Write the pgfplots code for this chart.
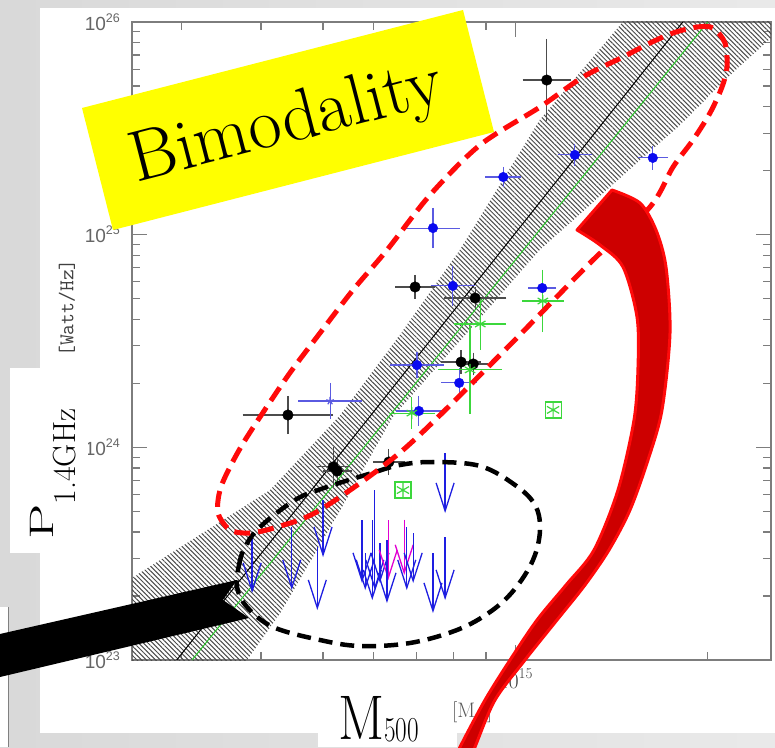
\documentclass[border=0pt]{standalone}
\usepackage{fontspec}
\usepackage{pgfplots}
\pgfplotsset{compat=1.18}
\usetikzlibrary{arrows.meta,patterns.meta}
\newfontfamily\tickfont{Liberation Sans}
\definecolor{hiyellow}{RGB}{255,255,0}
\definecolor{dred}{RGB}{205,0,0}
\definecolor{bred}{RGB}{255,10,10}
\definecolor{ptgreen}{RGB}{60,215,60}
\definecolor{lngreen}{RGB}{40,200,40}
\definecolor{ptblue}{RGB}{10,10,240}
\definecolor{ebblue}{RGB}{90,90,225}
\definecolor{ulblue}{RGB}{30,30,225}
\definecolor{ulmag}{RGB}{225,0,210}
\definecolor{axgray}{RGB}{125,125,125}
\newcommand{\ysup}[1]{\raisebox{0.42em}{\fontsize{12.5}{12.5}\selectfont #1}}
\begin{document}
\begin{tikzpicture}
\clip (0,0) rectangle (775pt,747pt);
\path[use as bounding box] (0,0) rectangle (775pt,747pt);
% background
\begin{scope}[x=1pt,y=-1pt,yshift=747pt]
\shade[left color=gray!30, right color=gray!17] (0,0) rectangle (775,747);
\fill[white] (40,8) rectangle (775,733);
\fill[white] (318,730) rectangle (457,747);
\fill[white] (0,607) rectangle (8,747);
\draw[gray, line width=1pt] (8,607) -- (8,747);
\end{scope}

\begin{axis}[
  at={(132pt,87pt)}, anchor=south west,
  width=639pt, height=638pt, scale only axis,
  xmin=14.4, xmax=15.4, ymin=23, ymax=26,
  axis line style={axgray, line width=1.3pt},
  tick align=inside,
  tick style={axgray, line width=1.2pt},
  major tick length=15pt, minor tick length=8pt,
  xtick={15},
  xticklabels={10\raisebox{0.45em}{\fontsize{15}{15}\selectfont 15}},
  minor xtick={14.477,14.602,14.699,14.778,14.845,14.903,14.954,15.301},
  ytick={23,24,25,26},
  yticklabels={10\ysup{23},10\ysup{24},10\ysup{25},10\ysup{26}},
  minor ytick={23.301,23.477,23.602,23.699,23.778,23.845,23.903,23.954,24.301,24.477,24.602,24.699,24.778,24.845,24.903,24.954,25.301,25.477,25.602,25.699,25.778,25.845,25.903,25.954},
  yticklabel style={font=\tickfont\fontsize{19}{19}\selectfont, text=black!60, anchor=east, inner sep=0pt, xshift=-12pt},
  xticklabel style={font=\fontsize{22}{22}\selectfont, text=black!75, anchor=north, inner sep=0pt, yshift=-8pt},
]
% hatched confidence band
\addplot[draw=none, pattern={Lines[angle=-45,distance=3.3pt,line width=1pt]}, pattern color=black!70] coordinates {
(15.198,26.103) (15.168,26.000) (15.038,25.539) (14.913,24.928) (14.819,24.528)
(14.726,24.152) (14.616,23.799) (14.486,23.550) (14.400,23.386) (14.334,23.268)
(14.334,22.812) (14.536,22.812) (14.580,23.000) (14.632,23.221) (14.726,23.705)
(14.808,24.143) (14.960,24.660) (15.038,24.928) (15.117,25.140) (15.195,25.351)
(15.258,25.516) (15.331,25.737) (15.400,25.925) (15.461,26.103)
} -- cycle;
% fits
\addplot[black, line width=1pt] coordinates {(14.470,23) (15.262,26)};
\addplot[lngreen, line width=1pt] coordinates {(14.494,23) (15.301,26)};

% black points
\addplot[only marks, mark=*, mark size=5.3pt, mark options={fill=black, draw=black},
  error bars/.cd, x dir=both, x explicit, y dir=both, y explicit,
  error bar style={black!70, line width=1.2pt},
  error mark options={black!70, line width=1.2pt, mark size=5pt}]
  table[x=x, y=y, x error=ex, y error=ey] {
x y ex ey
15.049 25.727 0.030 0.170
14.843 24.754 0.023 0.033
14.937 24.702 0.041 0.028
14.915 24.401 0.023 0.033
14.934 24.392 0.015 0.030
14.644 24.152 0.063 0.066
14.715 23.908 0.019 0.070
14.721 23.889 0.015 0.050
14.802 23.931 0.017 0.038
};
% blue points
\addplot[only marks, mark=*, mark size=4.8pt, mark options={fill=ptblue, draw=ptblue},
  error bars/.cd, x dir=both, x explicit, y dir=both, y explicit,
  error bar style={ebblue, line width=1.1pt},
  error mark options={ebblue, line width=1.1pt, mark size=5pt}]
  table[x=x, y=y, x error=ex, y error=ey] {
x y ex ey
15.093 25.375 0.019 0.028
15.215 25.361 0.016 0.033
14.981 25.271 0.020 0.024
14.871 25.031 0.034 0.071
14.902 24.759 0.027 0.071
15.042 24.749 0.014 0.033
14.846 24.387 0.034 0.038
14.912 24.303 0.020 0.047
14.849 24.171 0.028 0.047
};
\addplot[only marks, mark=star, mark size=4pt, mark options={draw=ebblue, line width=1.2pt},
  error bars/.cd, x dir=both, x explicit, y dir=both, y explicit,
  error bar style={ebblue, line width=1.1pt},
  error mark options={ebblue, line width=1.1pt, mark size=5pt}]
  table[x=x, y=y, x error=ex, y error=ey] {
x y ex ey
14.710 24.218 0.042 0.061
};
% green points
\addplot[only marks, mark=asterisk, mark size=6pt, mark options={draw=ptgreen, line width=1.2pt},
  error bars/.cd, x dir=both, x explicit, y dir=both, y explicit,
  error bar style={ptgreen, line width=1.1pt},
  error mark options={ptgreen, line width=1.1pt, mark size=6pt}]
  table[x=x, y=y, x error=ex, y error=ey] {
x y ex ey
15.043 24.688 0.023 0.118
14.945 24.580 0.031 0.094
14.929 24.364 0.041 0.179
14.838 24.161 0.027 0.047
};
\addplot[only marks, mark=square, mark size=8pt, mark options={draw=ptgreen, line width=1.2pt}] coordinates {(15.059,24.176) (14.824,23.799)};
\addplot[only marks, mark=asterisk, mark size=7pt, mark options={draw=ptgreen, line width=1.2pt}] coordinates {(15.059,24.176) (14.824,23.799)};

% upper limits
\pgfplotsset{ul/.style={ulblue, line width=1.3pt, -{Straight Barb[length=28pt,width=18pt]}}}
\addplot[ul] coordinates {(14.588,23.578) (14.588,23.315)};
\addplot[ul] coordinates {(14.650,23.625) (14.650,23.329)};
\addplot[ul] coordinates {(14.699,23.752) (14.699,23.484)};
\addplot[ul] coordinates {(14.690,23.531) (14.690,23.235)};
\addplot[ul] coordinates {(14.760,23.658) (14.760,23.362)};
\addplot[ul] coordinates {(14.765,23.503) (14.765,23.329)};
\addplot[ul] coordinates {(14.776,23.658) (14.776,23.282)};
\addplot[ul] coordinates {(14.780,23.799) (14.780,23.329)};
\addplot[ul] coordinates {(14.788,23.550) (14.788,23.362)};
\addplot[ul, ulmag] coordinates {(14.801,23.658) (14.801,23.376)};
\addplot[ul] coordinates {(14.799,23.564) (14.799,23.268)};
\addplot[ul, ulmag] coordinates {(14.826,23.660) (14.826,23.400)};
\addplot[ul] coordinates {(14.830,23.625) (14.830,23.329)};
\addplot[ul] coordinates {(14.840,23.597) (14.840,23.362)};
\addplot[ul] coordinates {(14.871,23.503) (14.871,23.221)};
\addplot[ul] coordinates {(14.890,23.973) (14.890,23.691)};
\addplot[ul] coordinates {(14.890,23.578) (14.890,23.282)};
\end{axis}

% annotations
\begin{scope}[x=1pt,y=-1pt,yshift=747pt]
\fill[white] (10,368) rectangle (88,553);
\node[rotate=90, font=\ttfamily\fontsize{21}{21}\selectfont, text=black!75, anchor=center, inner sep=0pt] at (67,308) {[Watt/Hz]};
\node[rotate=90, anchor=base west, inner sep=0pt] at (53,540) {\scalebox{1.65}[1]{\fontsize{34}{34}\selectfont P}\raisebox{-22pt}{\fontsize{32}{32}\selectfont 1.4GHz}};
\node[anchor=base west, inner sep=0pt] at (338,739) {\scalebox{0.86}[1]{\fontsize{63}{63}\selectfont M}\raisebox{-2pt}{\scalebox{0.72}[1]{\fontsize{35}{35}\selectfont 500}}};
\node[anchor=base west, inner sep=0pt, text=black!65] at (452,717) {\fontsize{21}{21}\selectfont [M$_\odot$]};

% black dashed ellipse
\draw[black, line width=4.5pt, dash pattern=on 14pt off 8pt] plot[smooth cycle, tension=0.6] coordinates {
(237,587) (239,565) (245,547) (260,527) (295,500) (324,488) (372,473) (400,465) (433,462)
(480,466) (515,485) (535,505) (540,530) (533,560) (514,590) (490,612) (457,630) (410,643)
(360,646) (320,640) (273,627) (247,607)};
% red dashed ellipse
\draw[bred, line width=5pt, dash pattern=on 16pt off 8pt] plot[smooth cycle, tension=0.5] coordinates {
(673,33) (697,27) (713,28) (725,43) (727,67) (722,87) (710,113) (693,140) (673,167) (650,207)
(593,260) (500,355) (403,450) (320,510) (277,527) (250,533) (230,530) (218,513) (220,490)
(230,467) (247,437) (287,377) (320,333) (353,290) (387,250) (430,195) (480,145) (540,107)
(583,77) (623,57) (650,43)};

% yellow label
\fill[hiyellow] (82,108) -- (463,10) -- (494,132) -- (113,230) -- cycle;
\node[rotate=14.5, anchor=center, inner sep=0pt] at (287,125) {\fontsize{72}{72}\selectfont Bimodality};

% red curved arrow
\filldraw[fill=dred, draw=bred, line width=3pt, line join=round]
  plot[smooth] coordinates {(612,190) (640,203) (656,230) (666,267) (670,333) (662,410) (648,460) (630,510) (609,550) (585,585) (557,620) (525,660) (495,700) (475,747) (470,760)}
  -- plot[smooth] coordinates {(455,760) (460,747) (485,700) (510,660) (537,620) (566,585) (594,550) (618,490) (634,420) (638,367) (637,317) (623,267) (600,245) (577,230)}
  -- cycle;

% black arrow
\fill[black] (0,634) -- (237,580) -- (223,600) -- (249,618) -- (0,677) -- cycle;
\end{scope}
\end{tikzpicture}
\end{document}
